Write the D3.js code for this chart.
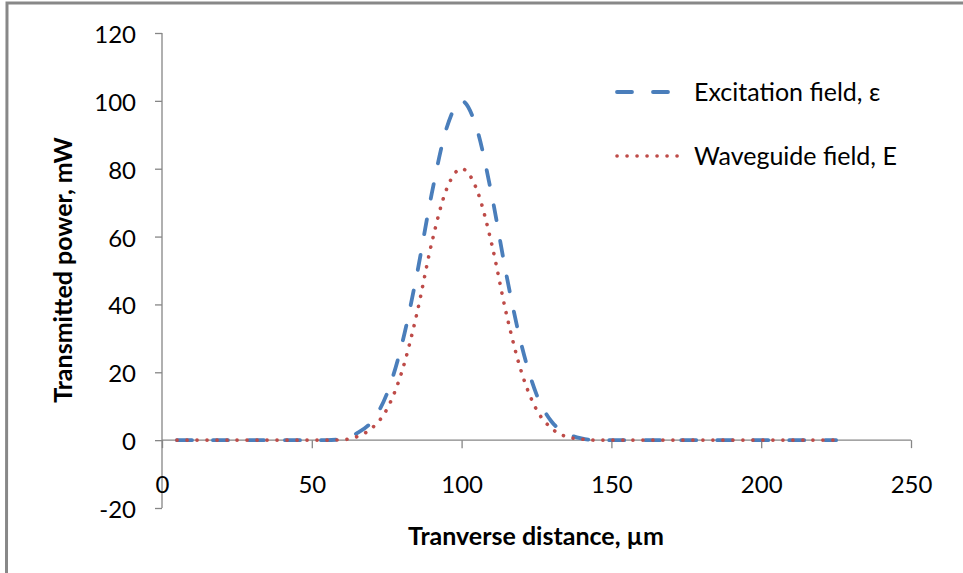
<!DOCTYPE html>
<html><head><meta charset="utf-8">
<script src="https://cdn.jsdelivr.net/npm/d3@7"></script>
<style>body{margin:0;background:#fff}svg{display:block}text{font-family:Lato,"Open Sans",sans-serif}</style>
</head><body>
<svg id="c" width="963" height="573"></svg>
<script>
const xValues = [5,10,15,20,25,30,35,40,45,50,55,60,65,70,75,80,85,90,95,100,105,110,115,120,125,130,135,140,145,150,155,160,165,170,175,180,185,190,195,200,205,210,215,220,225];
const excitation = [0,0,0,0,0,0,0,0,0,0,0,0.3,2,5.5,13.5,28,48.5,72.5,92,100,92,72.5,48.5,28,13.5,5.5,2,0.5,0,0,0,0,0,0,0,0,0,0,0,0,0,0,0,0,0];
const waveguide = [0,0,0,0,0,0,0,0,0,0,0,0.1,1,3.5,9,20,37,58,74,80,74,58,37,20,9,3.5,1,0.3,0,0,0,0,0,0,0,0,0,0,0,0,0,0,0,0,0];
const xTicks = [0,50,100,150,200,250];
const yTicks = [-20,0,20,40,60,80,100,120];
const seriesNames = ["Excitation field, \u03b5","Waveguide field, E"];
const xTitle = "Tranverse distance, \u00b5m";
const yTitle = "Transmitted power, mW";

const svg = d3.select("#c");
const x = d3.scaleLinear().domain([0,250]).range([162,911]);
const y = d3.scaleLinear().domain([-20,120]).range([508,33]);
const axisCol = "#868686";
const blue = "#4A7EBB", red = "#BE4B48";
const tickSize = 24, textSize = 25;

// frame
svg.append("path").attr("d","M6.5,573 L7,3 L963,3").attr("fill","none").attr("stroke","#888").attr("stroke-width",3);

// y axis
const ya = svg.append("g").attr("transform","translate(162,0)")
  .call(d3.axisLeft(y).tickValues(yTicks).tickSize(7).tickPadding(19).tickFormat(d=>String(d)));
ya.select(".domain").attr("stroke",axisCol).attr("stroke-width",1.3).attr("d","M0,33V508");
ya.selectAll(".tick line").attr("stroke",axisCol).attr("stroke-width",1.3);
ya.selectAll("text").attr("font-size",tickSize).attr("fill","#000").attr("dy",null).attr("dominant-baseline","central").attr("font-family","Lato,sans-serif");

// x axis at y=0
const xa = svg.append("g").attr("transform",`translate(0,${y(0)})`)
  .call(d3.axisBottom(x).tickValues(xTicks).tickSize(8).tickPadding(0).tickFormat(d=>String(d)));
xa.select(".domain").attr("stroke",axisCol).attr("stroke-width",1.3).attr("d",`M${x(0)},0H${x(250)}`);
xa.selectAll(".tick line").attr("stroke",axisCol).attr("stroke-width",1.3);
xa.selectAll("text").attr("font-size",tickSize).attr("fill","#000").attr("dy",null).attr("y",43).attr("dominant-baseline","central").attr("font-family","Lato,sans-serif");

// titles
svg.append("text").attr("x",536).attr("y",535).attr("text-anchor","middle").attr("dominant-baseline","central")
  .attr("font-size",textSize).attr("font-weight","bold").text(xTitle);
svg.append("text").attr("transform","translate(62,270) rotate(-90)").attr("text-anchor","middle").attr("dominant-baseline","central")
  .attr("font-size",textSize).attr("font-weight","bold").text(yTitle);

const line = d3.line().x((d,i)=>x(xValues[i])).y(d=>y(d)).curve(d3.curveMonotoneX);
svg.append("path").attr("d",line(excitation)).attr("fill","none").attr("stroke",blue).attr("stroke-width",3.8)
  .attr("stroke-dasharray","15 21").attr("stroke-linecap","round");
svg.append("path").attr("d",line(waveguide)).attr("fill","none").attr("stroke",red).attr("stroke-width",3.6)
  .attr("stroke-dasharray","0.1 9.9").attr("stroke-linecap","round");

// legend
svg.append("line").attr("x1",617).attr("x2",669).attr("y1",92).attr("y2",92).attr("stroke",blue).attr("stroke-width",3.8)
  .attr("stroke-dasharray","15 21").attr("stroke-linecap","round");
svg.append("line").attr("x1",617).attr("x2",679).attr("y1",156).attr("y2",156).attr("stroke",red).attr("stroke-width",3.6)
  .attr("stroke-dasharray","0.1 9.9").attr("stroke-linecap","round");
svg.append("text").attr("x",694).attr("y",91).attr("dominant-baseline","central").attr("font-size",textSize).text(seriesNames[0]);
svg.append("text").attr("x",694).attr("y",155).attr("dominant-baseline","central").attr("font-size",textSize).text(seriesNames[1]);
</script>
</body></html>
